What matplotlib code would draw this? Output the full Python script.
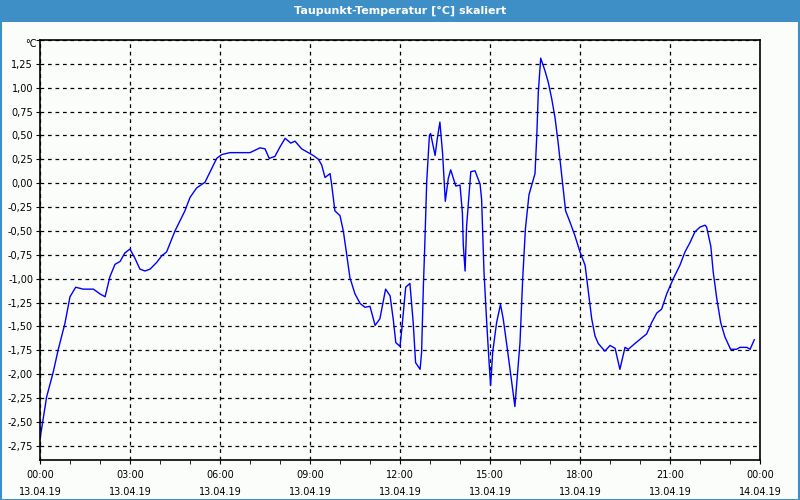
import matplotlib.pyplot as plt
from matplotlib.patches import Rectangle
from matplotlib.ticker import MultipleLocator, FuncFormatter

# Taupunkt-Temperatur, 13.04.19 00:00 .. 14.04.19 00:00 (hours since midnight)
hours = [0.0, 0.22, 0.44, 0.61, 0.83, 1.0, 1.19, 1.44, 1.78, 2.0, 2.17, 2.33, 2.5,
         2.67, 2.83, 3.0, 3.17, 3.33, 3.5, 3.67, 3.89, 4.06, 4.22, 4.5, 4.83, 5.0,
         5.22, 5.5, 5.67, 5.89, 6.06, 6.33, 7.0, 7.33, 7.5, 7.64, 7.83, 8.0, 8.17,
         8.36, 8.5, 8.72, 8.89, 9.11, 9.28, 9.39, 9.5, 9.67, 9.72, 9.83, 10.0, 10.11,
         10.22, 10.33, 10.5, 10.67, 10.83, 11.0, 11.17, 11.33, 11.52, 11.67, 11.78,
         11.86, 12.0, 12.06, 12.19, 12.33, 12.44, 12.52, 12.67, 12.72, 12.78, 12.82,
         12.89, 12.98, 13.02, 13.17, 13.24, 13.33, 13.42, 13.51, 13.61, 13.69, 13.78,
         13.86, 14.0, 14.08, 14.11, 14.17, 14.22, 14.36, 14.5, 14.67, 14.72, 14.8,
         14.89, 14.97, 15.02, 15.09, 15.22, 15.35, 15.44, 15.58, 15.72, 15.83, 15.9,
         16.0, 16.09, 16.18, 16.3, 16.39, 16.5, 16.56, 16.61, 16.69, 16.83, 16.94,
         17.06, 17.17, 17.28, 17.39, 17.52, 17.67, 17.83, 18.0, 18.17, 18.28, 18.39,
         18.5, 18.61, 18.83, 19.0, 19.17, 19.33, 19.5, 19.61, 19.83, 20.06, 20.22,
         20.39, 20.56, 20.72, 20.89, 21.11, 21.33, 21.5, 21.67, 21.83, 22.0, 22.17,
         22.22, 22.36, 22.44, 22.56, 22.69, 22.83, 23.02, 23.22, 23.33, 23.56, 23.67,
         23.81]
dewpoint = [-2.68, -2.24, -1.98, -1.74, -1.47, -1.19, -1.09, -1.11, -1.11, -1.16, -1.19,
            -0.98, -0.85, -0.82, -0.73, -0.69, -0.79, -0.90, -0.92, -0.90, -0.83, -0.76,
            -0.72, -0.50, -0.29, -0.15, -0.05, 0.01, 0.12, 0.26, 0.30, 0.32, 0.32, 0.37,
            0.36, 0.26, 0.28, 0.38, 0.47, 0.42, 0.44, 0.36, 0.33, 0.29, 0.25, 0.19, 0.06,
            0.10, -0.01, -0.29, -0.34, -0.50, -0.74, -0.99, -1.16, -1.26, -1.30, -1.29,
            -1.49, -1.42, -1.11, -1.18, -1.44, -1.67, -1.71, -1.53, -1.09, -1.05, -1.46,
            -1.88, -1.95, -1.77, -1.07, -0.71, 0.01, 0.50, 0.52, 0.29, 0.46, 0.64, 0.31,
            -0.19, 0.05, 0.14, 0.05, -0.03, -0.02, -0.31, -0.65, -0.92, -0.45, 0.12, 0.13,
            -0.01, -0.17, -0.93, -1.46, -1.88, -2.12, -1.77, -1.46, -1.27, -1.42, -1.74,
            -2.08, -2.34, -2.06, -1.67, -1.00, -0.48, -0.12, -0.02, 0.10, 0.50, 0.95, 1.31,
            1.18, 1.06, 0.88, 0.68, 0.40, 0.08, -0.29, -0.41, -0.55, -0.72, -0.86, -1.14,
            -1.42, -1.60, -1.68, -1.76, -1.70, -1.73, -1.95, -1.72, -1.74, -1.68, -1.62,
            -1.58, -1.46, -1.36, -1.32, -1.16, -1.00, -0.86, -0.72, -0.62, -0.51, -0.46,
            -0.44, -0.46, -0.66, -0.93, -1.21, -1.46, -1.61, -1.74, -1.74, -1.72, -1.72,
            -1.74, -1.64]

tick_hours = [0, 3, 6, 9, 12, 15, 18, 21, 24]
tick_labels = ["00:00\n13.04.19", "03:00\n13.04.19", "06:00\n13.04.19",
               "09:00\n13.04.19", "12:00\n13.04.19", "15:00\n13.04.19",
               "18:00\n13.04.19", "21:00\n13.04.19", "00:00\n14.04.19"]

TITLE = "Taupunkt-Temperatur [°C] skaliert"
BAR_BLUE = "#3d8fc6"

fig = plt.figure(figsize=(8, 5), dpi=100, facecolor="#fbfdfb")

# title bar and window frame
fig.patches.append(Rectangle((0, 1 - 22 / 500), 1, 22 / 500, transform=fig.transFigure,
                             facecolor=BAR_BLUE, edgecolor="none", zorder=0))
fig.patches.append(Rectangle((0.0008, 0.001), 0.9984, 0.998, transform=fig.transFigure,
                             facecolor="none", edgecolor=BAR_BLUE, linewidth=1.5, zorder=5))
fig.text(0.5, 1 - 11 / 500, TITLE, color="white", ha="center", va="center",
         fontsize=8, fontweight="semibold")

ax = fig.add_axes([40 / 800, 40 / 500, 720 / 800, 420 / 500])
ax.set_facecolor("#fbfdfb")
ax.plot(hours, dewpoint, color="#0000ff", linewidth=1)

ax.set_xlim(0, 24)
ax.set_ylim(-2.9, 1.5)

ax.set_xticks(tick_hours)
ax.set_xticklabels(tick_labels, fontsize=7, linespacing=1.85)
ax.xaxis.set_minor_locator(MultipleLocator(1))
ax.yaxis.set_major_locator(MultipleLocator(0.25))
ax.yaxis.set_major_formatter(FuncFormatter(
    lambda v, _: "" if v > 1.3 or v < -2.8 else f"{v:.2f}".replace(".", ",")))
ax.tick_params(axis="y", labelsize=7, length=3, pad=2)
ax.tick_params(axis="x", which="major", length=3, pad=4)
ax.tick_params(axis="x", which="minor", length=3)

ax.grid(True, which="major", color="black", linestyle=(0, (3, 3)), linewidth=0.9)
ax.text(-0.004, 1.0 - 4 / 420, "°C", transform=ax.transAxes, ha="right", va="center",
        fontsize=7)

for side in ["top", "right", "bottom", "left"]:
    ax.spines[side].set_linewidth(1.2)

plt.savefig("out.png", dpi=100, facecolor=fig.get_facecolor())
